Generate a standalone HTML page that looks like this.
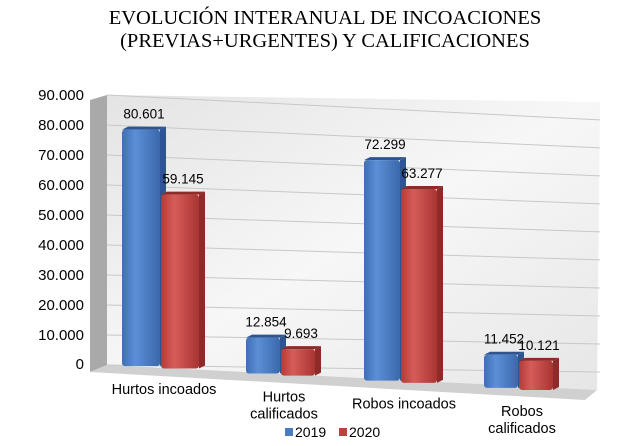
<!DOCTYPE html>
<html><head><meta charset="utf-8"><style>
body{margin:0;background:#fff}
svg{display:block;font-family:"Liberation Sans",Arial,sans-serif}
</style></head><body>
<svg id="c" width="638" height="446" viewBox="0 0 638 446">
<defs>
<linearGradient id="gb" x1="0" x2="1"><stop offset="0" stop-color="#3f6fb5"/><stop offset=".35" stop-color="#5b8fd6"/><stop offset="1" stop-color="#3b68ab"/></linearGradient>
<linearGradient id="gr" x1="0" x2="1"><stop offset="0" stop-color="#b03c3a"/><stop offset=".35" stop-color="#d65c58"/><stop offset="1" stop-color="#a83533"/></linearGradient>
<linearGradient id="wall" x1="0" x2="1" y1="0" y2="1"><stop offset="0" stop-color="#e4e4e4"/><stop offset=".5" stop-color="#f7f7f7"/><stop offset="1" stop-color="#e6e6e6"/></linearGradient>
</defs>
<text x="325" y="24" text-anchor="middle" font-family="Liberation Serif,serif" font-size="20.5">EVOLUCIÓN INTERANUAL DE INCOACIONES</text>
<text x="325" y="47" text-anchor="middle" font-family="Liberation Serif,serif" font-size="20.5">(PREVIAS+URGENTES) Y  CALIFICACIONES</text>
<polygon points="107,95 600,102 597,390 107,365" fill="url(#wall)"/>
<polygon points="90,100 107,95 107,365 90,372" fill="#a9a9a9"/>
<polygon points="90,372 107,365 597,390 585,400" fill="#d0d0d0"/>
<g id="grid"></g><g id="yt"></g><g id="bars"></g>
<g>
<rect x="285" y="428" width="8" height="8" fill="#4a7cc3"/>
<text x="295" y="437" font-size="14">2019</text>
<rect x="339" y="428" width="8" height="8" fill="#c0403e"/>
<text x="349" y="437" font-size="14">2020</text>
</g>
</svg>
<script>
const categories=["Hurtos incoados","Hurtos\ncalificados","Robos incoados","Robos\ncalificados"];
const s2019=[80601,12854,72299,11452];
const s2020=[59145,9693,63277,10121];
const labels2019=["80.601","12.854","72.299","11.452"];
const labels2020=["59.145","9.693","63.277","10.121"];
const ticks=[0,10000,20000,30000,40000,50000,60000,70000,80000,90000];
const tickLabels=["0","10.000","20.000","30.000","40.000","50.000","60.000","70.000","80.000","90.000"];
const NS="http://www.w3.org/2000/svg";
function el(t,a,p){const e=document.createElementNS(NS,t);for(const k in a)e.setAttribute(k,a[k]);document.getElementById(p).appendChild(e);return e;}
const y0L=365,pxPer=(365-95)/90000;
function yAxis(v){return y0L-v*pxPer;}
function baseAt(x){return 366+(x-120)*0.06;}
function hScale(x){return 0.00297+(x-120)*0.0000005;}
ticks.forEach((t,i)=>{
  const yl=yAxis(t);
  const g=el('line',{x1:107,y1:yl,x2:600,y2:yl+7+(365-yl)*0.066,stroke:'#c8c8c8','stroke-width':1},'grid');
  
  
  const tx=el('text',{x:84,y:yl+5+(t===0?-1:0),'text-anchor':'end','font-size':15},'yt');
  tx.textContent=tickLabels[i];
  
  
});
const groupX=[122,246,364,484],bw=[38,34,36,34];
function bar(x,w,v,fill,side,lab,name){
  const b=baseAt(x), h=v*hScale(x), top=b-h, d=6;
  const g=el('g',{},'bars');
  
  
  const sid=document.createElementNS(NS,'polygon');sid.setAttribute('points',`${x+w},${top+3} ${x+w+d},${top} ${x+w+d},${b-3} ${x+w},${b}`);sid.setAttribute('fill',side);g.appendChild(sid);
  const tp=document.createElementNS(NS,'polygon');tp.setAttribute('points',`${x},${top+3} ${x+d},${top} ${x+w+d},${top} ${x+w},${top+3}`);tp.setAttribute('fill',side);g.appendChild(tp);
  const r=document.createElementNS(NS,'rect');r.setAttribute('x',x);r.setAttribute('y',top+3);r.setAttribute('width',w);r.setAttribute('height',h-3);r.setAttribute('rx',3);r.setAttribute('fill',fill);g.appendChild(r);
  const t=el('text',{x:x+w/2+3,y:top-8,'text-anchor':'middle','font-size':13.5},'bars');
  t.textContent=lab;
  
  
}
categories.forEach((c,i)=>{
  const x=groupX[i],w=bw[i];
  bar(x,w,s2019[i],'url(#gb)','#2f5590',labels2019[i],'bar-2019-'+i);
  bar(x+w+1,w,s2020[i],'url(#gr)','#8e2b29',labels2020[i],'bar-2020-'+i);
  const lines=c.split("\n"), cx=x+w+4, by=baseAt(x)+28;
  lines.forEach((ln,j)=>{
    const t=el('text',{x:cx,y:by+j*17,'text-anchor':'middle','font-size':14.5},'bars');
    t.textContent=ln;
    
    
  });
});
</script>
</body></html>
